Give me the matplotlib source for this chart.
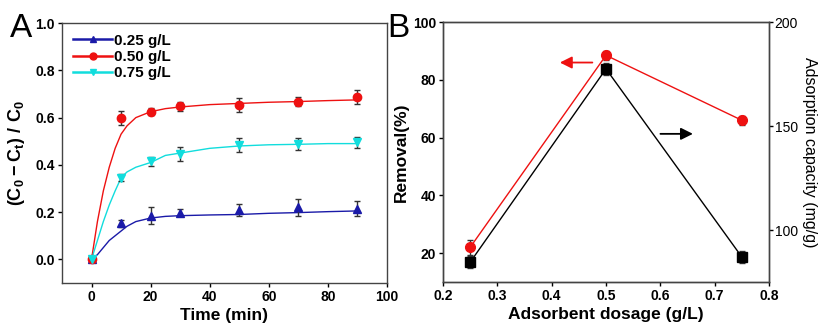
import matplotlib.pyplot as plt
import matplotlib.font_manager as fm

# --- data, panel A (kinetics) ---
t = [0, 10, 20, 30, 50, 70, 90]
r025 = [0.0, 0.152, 0.185, 0.198, 0.210, 0.220, 0.215]
e025 = [0.0, 0.015, 0.035, 0.015, 0.025, 0.035, 0.030]
r050 = [0.0, 0.600, 0.625, 0.648, 0.655, 0.668, 0.688]
e050 = [0.0, 0.030, 0.015, 0.020, 0.030, 0.020, 0.030]
r075 = [0.0, 0.345, 0.415, 0.445, 0.485, 0.490, 0.495]
e075 = [0.0, 0.015, 0.020, 0.030, 0.030, 0.025, 0.022]

# fitted curves
t_fit = [0, 2, 4, 6, 8, 10, 12, 15, 20, 25, 30, 40, 50, 60, 70, 80, 90]
fit025 = [0, 0.02, 0.05, 0.08, 0.10, 0.12, 0.14, 0.16, 0.175, 0.182, 0.185, 0.188, 0.190, 0.195, 0.198, 0.202, 0.205]
fit050 = [0, 0.16, 0.29, 0.39, 0.47, 0.53, 0.565, 0.60, 0.625, 0.638, 0.645, 0.655, 0.660, 0.665, 0.668, 0.672, 0.675]
fit075 = [0, 0.08, 0.16, 0.23, 0.29, 0.345, 0.37, 0.39, 0.41, 0.44, 0.45, 0.47, 0.48, 0.485, 0.487, 0.49, 0.49]

# --- data, panel B (dosage) ---
dose = [0.25, 0.50, 0.75]
removal = [22.0, 88.5, 66.0]
removal_err = [2.5, 1.5, 1.5]
capacity = [84.5, 177.5, 87.0]
capacity_err = [3.0, 3.0, 3.0]

names = {f.name for f in fm.fontManager.ttflist}
narrow = 'Liberation Sans Narrow' if 'Liberation Sans Narrow' in names else 'Liberation Sans'
plt.rcParams['font.family'] = [narrow, 'DejaVu Sans']
plt.rcParams['mathtext.fontset'] = 'custom'
plt.rcParams['mathtext.rm'] = 'Liberation Sans:bold'
plt.rcParams['mathtext.bf'] = 'Liberation Sans:bold'
tick_size = 11 if narrow != 'Liberation Sans' else 10

fig = plt.figure(figsize=(8.24, 3.3), dpi=100)
axA = fig.add_axes([0.0752, 0.1424, 0.3945, 0.7876])
axB = fig.add_axes([0.5376, 0.1455, 0.3957, 0.7875])

# panel A
blue, red, cyan = '#1a1aa8', '#ee1111', '#11dddd'
for y, e, f, c, m, lab in [(r025, e025, fit025, blue, '^', '0.25 g/L'),
                           (r050, e050, fit050, red, 'o', '0.50 g/L'),
                           (r075, e075, fit075, cyan, 'v', '0.75 g/L')]:
    axA.plot(t_fit, f, color=c, lw=1.0, zorder=2)
    axA.errorbar(t, y, yerr=e, fmt=m, color=c, ms=6, ecolor='#333333',
                 elinewidth=1, capsize=2.5, zorder=3)
    axA.plot([], [], color=c, marker=m, ms=5, lw=1.8, label=lab)

axA.set_xlim(-10, 100)
axA.set_ylim(-0.1, 1.0)
axA.set_xticks([0, 20, 40, 60, 80, 100])
axA.set_yticks([0.0, 0.2, 0.4, 0.6, 0.8, 1.0])
axA.set_yticklabels(['0.0', '0.2', '0.4', '0.6', '0.8', '1.0'])
axA.set_xlabel('Time (min)', fontsize=12.5, fontweight='bold', family='Liberation Sans', labelpad=3)
axA.set_ylabel(r'$\mathbf{(C_0-C_t)\ /\ C_0}$', fontsize=13, labelpad=6)
axA.legend(loc='upper left', frameon=False, handlelength=2.6, handletextpad=0.1,
           borderaxespad=0.3, labelspacing=0.15, prop={'weight': 'bold', 'size': 11})
fig.text(0.012, 0.888, 'A', fontsize=24, family='Liberation Sans')

# panel B
axB.errorbar(dose, removal, yerr=removal_err, fmt='-o', color='#ee1111', ms=7,
             lw=1.0, ecolor='#333333', elinewidth=1, capsize=2.5, zorder=3)
axB.set_xlim(0.2, 0.8)
axB.set_ylim(10, 100)
axB.set_xticks([0.2, 0.3, 0.4, 0.5, 0.6, 0.7, 0.8])
axB.set_yticks([20, 40, 60, 80, 100])
axB.set_xlabel('Adsorbent dosage (g/L)', fontsize=12.5, fontweight='bold', family='Liberation Sans', labelpad=3)
axB.set_ylabel('Removal(%)', fontsize=12.5, fontweight='bold', family='Liberation Sans', labelpad=3)
axB.annotate('', xy=(0.41, 86), xytext=(0.48, 86),
             arrowprops=dict(arrowstyle='-|>', color='#ee1111', lw=1.3, mutation_scale=18))
axB.annotate('', xy=(0.665, 61.3), xytext=(0.595, 61.3),
             arrowprops=dict(arrowstyle='-|>', color='black', lw=1.3, mutation_scale=18))

axR = axB.twinx()
axR.errorbar(dose, capacity, yerr=capacity_err, fmt='-s', color='black', ms=7,
             lw=1.0, ecolor='#333333', elinewidth=1, capsize=2.5, zorder=2)
axR.set_ylim(75, 200)
axR.set_yticks([100, 150, 200])
axR.set_ylabel('Adsorption capacity (mg/g)', fontsize=11.5, rotation=270,
               family='Liberation Sans', labelpad=14)
axB.set_zorder(axR.get_zorder() + 1)
axB.patch.set_visible(False)
fig.text(0.470, 0.888, 'B', fontsize=24, family='Liberation Sans')

for ax in (axA, axB):
    ax.tick_params(direction='out', length=3, width=1, labelsize=tick_size, pad=2)
    for lab in ax.get_xticklabels() + ax.get_yticklabels():
        lab.set_fontweight('bold')
axR.tick_params(direction='out', length=3, width=1, labelsize=tick_size, pad=1)
for ax in (axA, axB, axR):
    for s in ax.spines.values():
        s.set_color('#444444')
        s.set_linewidth(1.0)

fig.savefig('out.png', dpi=100)
